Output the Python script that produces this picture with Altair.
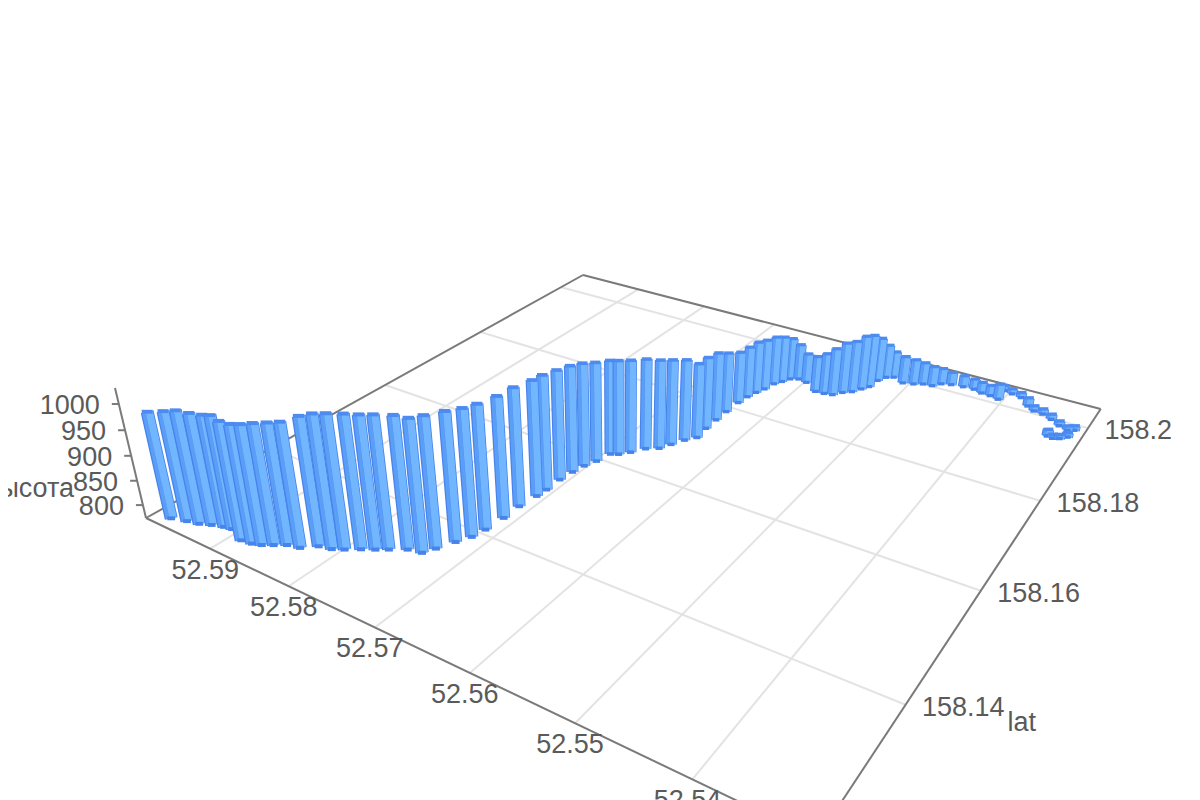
import altair as alt
import pandas as pd

# Track points
lon_values = [52.5969,52.5953,52.5940,52.5929,52.5917,52.5908,52.5887,52.5875,52.5866,52.5857,52.5847,52.5834,52.5822,52.5809,52.5799,52.5787,52.5776,52.5766,52.5752,52.5738,52.5732,52.5724,52.5717,52.5714,52.5712,52.5712,52.5709,52.5708,52.5708,52.5706,52.5703,52.5698,52.5694,52.5687,52.5679,52.5670,52.5659,52.5653,52.5646,52.5638,52.5640,52.5640,52.5640,52.5639,52.5637,52.5634,52.5630,52.5627,52.5622,52.5617,52.5609,52.5598,52.5580,52.5570,52.5561,52.5554,52.5546,52.5540,52.5535,52.5533,52.5528,52.5521,52.5507,52.5496,52.5487,52.5477,52.5470,52.5460,52.5447,52.5435,52.5425,52.5415,52.5405,52.5406,52.5396,52.5385,52.5373,52.5364,52.5354,52.5343,52.5332,52.5322,52.5316,52.5318,52.5324,52.5330,52.5336]
lat_values = [158.1233,158.1239,158.1243,158.1249,158.1254,158.1256,158.1247,158.1249,158.1253,158.1260,158.1268,158.1272,158.1285,158.1289,158.1296,158.1306,158.1314,158.1322,158.1333,158.1337,158.1351,158.1372,158.1389,158.1408,158.1437,158.1465,158.1493,158.1510,158.1536,158.1558,158.1577,158.1594,158.1617,158.1622,158.1634,158.1651,158.1661,158.1677,158.1695,158.1709,158.1735,158.1761,158.1787,158.1817,158.1838,158.1855,158.1870,158.1890,158.1902,158.1915,158.1921,158.1918,158.1901,158.1902,158.1905,158.1918,158.1927,158.1941,158.1953,158.1976,158.1991,158.1997,158.1988,158.1993,158.2000,158.2002,158.2014,158.2019,158.2022,158.2023,158.2018,158.2017,158.2013,158.2041,158.2038,158.2034,158.2016,158.2007,158.2005,158.1997,158.1986,158.1980,158.1985,158.1963,158.1954,158.1950,158.1952]
alt_values = [986,992,998,995,995,998,1006,1006,1008,1010,1011,1017,1025,1034,1035,1034,1033,1033,1032,1032,1030,1027,1024,1020,1015,1012,1008,1007,999,994,988,981,972,972,969,965,962,955,947,934,929,922,905,888,887,889,886,882,877,868,854,840,854,865,879,887,889,895,892,872,849,833,835,830,823,818,809,802,799,797,798,797,808,785,785,785,792,785,785,785,784,783,783,783,782,782,788]

lon_ticks = [52.59, 52.58, 52.57, 52.56, 52.55, 52.54]
lat_ticks = [158.14, 158.16, 158.18, 158.2]
alt_ticks = [800, 850, 900, 950, 1000]
lon_tick_labels = ["52.59", "52.58", "52.57", "52.56", "52.55", "52.54"]
lat_tick_labels = ["158.14", "158.16", "158.18", "158.2"]
alt_tick_labels = ["800", "850", "900", "950", "1000"]
lat_name = "lat"
alt_name = "высота"

# Axis extents of the 3D box
LON_A, LON_SPAN = 52.5989, -0.0684
LAT_A, LAT_SPAN = 158.1218, 0.0842
ALT_A, ALT_SPAN = 773.0, 257.0

# View: four floor corners and the vanishing point of the vertical axis
corners = [(146, 518), (817, 839), (1100.7, 409), (583, 275)]
(x0, y0), (x1, y1), (x2, y2), (x3, y3) = corners
_dx1, _dx2, _sx = x1 - x2, x3 - x2, x0 - x1 + x2 - x3
_dy1, _dy2, _sy = y1 - y2, y3 - y2, y0 - y1 + y2 - y3
_den = _dx1 * _dy2 - _dx2 * _dy1
G = (_sx * _dy2 - _dx2 * _sy) / _den
H_ = (_dx1 * _sy - _sx * _dy1) / _den
A, B, C = x1 - x0 + G * x1, x3 - x0 + H_ * x3, x0
E, F, I = y1 - y0 + G * y1, y3 - y0 + H_ * y3, y0
VX, VY, K = 620.0, 2506.0, -31 / 505


def project(lon, lat, height=None):
    s = (lon - LON_A) / LON_SPAN
    r = (lat - LAT_A) / LAT_SPAN
    w = 0.0 if height is None else (height - ALT_A) / ALT_SPAN
    d = G * s + H_ * r + 1
    px = A * s + B * r + C + K * w * VX
    py = E * s + F * r + I + K * w * VY
    q = d + K * w
    return px / q, py / q, d


LON_MIN, LON_MAX = LON_A + LON_SPAN, LON_A
LAT_MIN, LAT_MAX = LAT_A, LAT_A + LAT_SPAN


def seg(a, b, col, sw):
    return dict(x=a[0], y=a[1], x2=b[0], y2=b[1], col=col, sw=sw)


GRID, EDGE = "#e3e3e3", "#7a7a7a"
floor = []
for v in lon_ticks:
    floor.append(seg(project(v, LAT_MIN), project(v, LAT_MAX), GRID, 2))
for v in lat_ticks:
    floor.append(seg(project(LON_MIN, v), project(LON_MAX, v), GRID, 2))
L = project(LON_MAX, LAT_MIN)
FR = project(LON_MIN, LAT_MIN)
RR = project(LON_MIN, LAT_MAX)
BK = project(LON_MAX, LAT_MAX)
TOP = project(LON_MAX, LAT_MIN, ALT_A + ALT_SPAN)
for a, b in [(L, BK), (BK, RR), (RR, FR), (L, FR), (L, TOP)]:
    floor.append(seg(a, b, EDGE, 2))
for v in alt_ticks:
    p = project(LON_MAX, LAT_MIN, v)
    floor.append(seg(p, (p[0] - 7, p[1]), EDGE, 2))

# Bars: far ones first so that the near ones cover them
DARK, MID, LIGHT, CAP = "#4683ea", "#5a9ef8", "#72b6ff", "#4d8bf0"
order = sorted(range(len(lon_values)), key=lambda i: project(lon_values[i], lat_values[i])[1])
bars = []
for i in order:
    bx, by, d = project(lon_values[i], lat_values[i])
    tx, ty, _ = project(lon_values[i], lat_values[i], alt_values[i])
    w = 13.0 / d
    bars.append(seg((bx, by), (tx, ty), DARK, w))
    bars.append(seg((bx - 0.27 * w, by), (tx - 0.27 * w, ty), MID, 0.28 * w))
    bars.append(seg((bx + 0.16 * w, by), (tx + 0.16 * w, ty), LIGHT, 0.56 * w))
    bars.append(seg((bx - 0.3 * w, by), (bx + 0.3 * w, by), DARK, 0.3 * w))
    bars.append(seg((tx - 0.42 * w, ty), (tx + 0.42 * w, ty), CAP, 0.3 * w))

texts = []
for v, t in zip(lon_ticks, lon_tick_labels):
    p = project(v, LAT_MIN)
    texts.append(dict(x=p[0] - 5, y=p[1] + 22, t=t, a="center"))
for v, t in zip(lat_ticks, lat_tick_labels):
    p = project(LON_MIN, v)
    texts.append(dict(x=p[0] + 16.5, y=p[1] + 3, t=t, a="left"))
for v, t in zip(alt_ticks, alt_tick_labels):
    p = project(LON_MAX, LAT_MIN, v)
    texts.append(dict(x=p[0] - 19, y=p[1] + 2, t=t, a="right"))
p = project(LON_MIN, 158.14)
texts.append(dict(x=p[0] + 102, y=p[1] + 18, t=lat_name, a="left"))
p = project(LON_MAX, LAT_MIN, 850)
texts.append(dict(x=p[0] - 63, y=p[1] + 8, t=alt_name, a="right"))

sx = alt.Scale(domain=[8, 1192], nice=False, zero=False)
sy = alt.Scale(domain=[800, 8], nice=False, zero=False)


def rules(rows):
    return alt.Chart(pd.DataFrame(rows)).mark_rule(strokeCap="butt").encode(
        x=alt.X("x:Q", scale=sx, axis=None),
        y=alt.Y("y:Q", scale=sy, axis=None),
        x2="x2:Q",
        y2="y2:Q",
        color=alt.Color("col:N", scale=None),
        strokeWidth=alt.StrokeWidth("sw:Q", scale=None),
    )


def labels(rows, align):
    return alt.Chart(pd.DataFrame(rows)).mark_text(
        font="Liberation Sans", fontSize=27, color="#5a5a5a", align=align, baseline="middle"
    ).encode(
        x=alt.X("x:Q", scale=sx, axis=None),
        y=alt.Y("y:Q", scale=sy, axis=None),
        text="t:N",
    )


chart = alt.layer(
    rules(floor),
    rules(bars),
    labels([t for t in texts if t["a"] == "center"], "center"),
    labels([t for t in texts if t["a"] == "left"], "left"),
    labels([t for t in texts if t["a"] == "right"], "right"),
).properties(
    width=1184, height=792, padding=0, autosize=alt.AutoSizeParams(type="none")
).configure_view(stroke=None)

chart.save("out.html", embed_options={"renderer": "svg", "actions": False})
